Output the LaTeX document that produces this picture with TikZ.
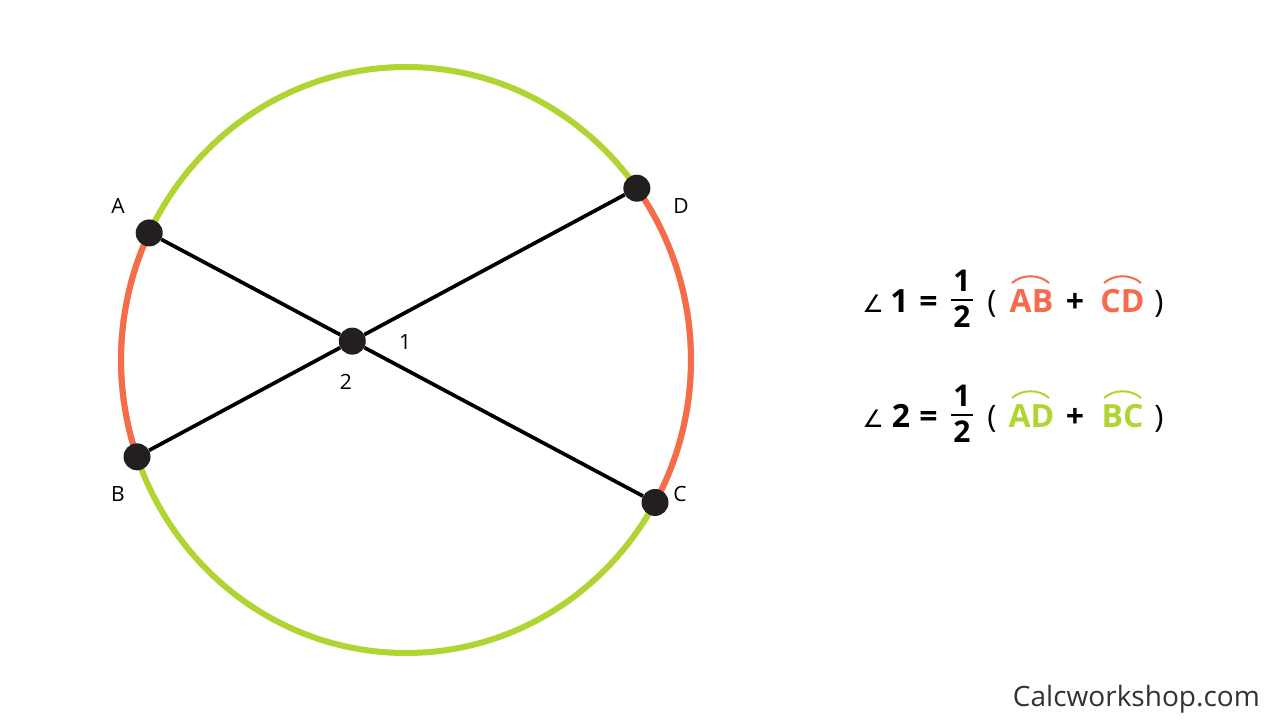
\documentclass[tikz,border=0pt]{standalone}
\usepackage{fontspec}
\setmainfont{Open Sans}
\newfontfamily\djv{DejaVu Sans}
\usetikzlibrary{calc}
\definecolor{arcgreen}{HTML}{B0D432}
\definecolor{arcred}{HTML}{F86A4C}
\definecolor{dotc}{HTML}{231F20}
\definecolor{wmgray}{HTML}{333333}
\begin{document}
\begin{tikzpicture}[x=1pt,y=1pt,
  dot/.style={circle,fill=dotc,inner sep=0pt,minimum size=27pt},
  chord/.style={line width=3.7pt,black},
  rim/.style={line width=6pt},
  lab/.style={font=\fontsize{21}{21}\selectfont,inner sep=0pt},
  fbold/.style={font=\fontsize{32}{32}\selectfont\bfseries,inner sep=0pt,anchor=base},
  ffrac/.style={font=\fontsize{30}{30}\selectfont\bfseries,inner sep=0pt,anchor=base},
  fparen/.style={font=\fontsize{31}{31}\selectfont,inner sep=0pt,anchor=base},
  angsym/.style={font=\djv\fontsize{24}{24}\selectfont,inner sep=0pt,anchor=base},
  arcmark/.style={line width=2pt},
]
\useasboundingbox (0,0) rectangle (1280,720);
\fill[white] (0,0) rectangle (1280,720);

% circle (slightly elliptical)
\coordinate (O) at (406,360);
\draw[arcgreen,rim] (O) ellipse [x radius=285pt,y radius=293pt];
\draw[arcred,rim] ($(O)+(154.3:285pt and 293pt)$) arc[start angle=154.3,end angle=199.3,x radius=285pt,y radius=293pt];
\draw[arcred,rim] ($(O)+(-29.1:285pt and 293pt)$) arc[start angle=-29.1,end angle=35.9,x radius=285pt,y radius=293pt];

% points
\node[dot] (A) at ($(O)+(154.3:285pt and 293pt)$) {};
\node[dot] (B) at ($(O)+(199.3:285pt and 293pt)$) {};
\node[dot] (C) at ($(O)+(-29.1:285pt and 293pt)$) {};
\node[dot] (D) at ($(O)+(35.9:285pt and 293pt)$) {};
\coordinate (X) at (intersection of A--C and B--D);
\node[dot] (P) at (X) {};

% chords
\draw[chord] (A) -- (P);
\draw[chord] (P) -- (C);
\draw[chord] (B) -- (P);
\draw[chord] (P) -- (D);

% labels
\node[lab] (lA) at (118,514) {A};
\node[lab] (lD) at (681,514) {D};
\node[lab] (lB) at (118,226) {B};
\node[lab] (lC) at (680,226) {C};
\node[lab] (l1) at (405,378) {1};
\node[lab] (l2) at (346,338) {2};

% formula row 1
\node[angsym] (ang1) at (873,407) {∠};
\node[fbold] (n1) at (899.5,407) {1};
\node[fbold] (eq1) at (928.5,407) {=};
\node[ffrac] (fn1) at (962,428) {1};
\node[ffrac] (fd1) at (962,392) {2};
\draw[line width=2.2pt] (951,420) -- (973,420);
\node[fparen] (lp1) at (992,407) {(};
\node[fbold,text=arcred] (ab) at (1031.5,407) {AB};
\draw[arcred,arcmark] ($(ab.base)+(-19.5,30)$) .. controls +(10,9) and +(-10,9) .. ($(ab.base)+(17.5,30)$);
\node[fbold] (pl1) at (1075,407) {+};
\node[fbold,text=arcred] (cd) at (1122.5,407) {CD};
\draw[arcred,arcmark] ($(cd.base)+(-18.5,30)$) .. controls +(10,9) and +(-10,9) .. ($(cd.base)+(18.5,30)$);
\node[fparen] (rp1) at (1159,407) {)};

% formula row 2
\begin{scope}[yshift=-115pt]
\node[angsym] (ang2) at (873,407) {∠};
\node[fbold] (n2) at (901,407) {2};
\node[fbold] (eq2) at (928.5,407) {=};
\node[ffrac] (fn2) at (962,428) {1};
\node[ffrac] (fd2) at (962,392) {2};
\draw[line width=2.2pt] (951,420) -- (973,420);
\node[fparen] (lp2) at (992,407) {(};
\node[fbold,text=arcgreen] (ad) at (1031.5,407) {AD};
\draw[arcgreen,arcmark] ($(ad.base)+(-19.5,30)$) .. controls +(10,9) and +(-10,9) .. ($(ad.base)+(17.5,30)$);
\node[fbold] (pl2) at (1075,407) {+};
\node[fbold,text=arcgreen] (bc) at (1122.5,407) {BC};
\draw[arcgreen,arcmark] ($(bc.base)+(-18.5,30)$) .. controls +(10,9) and +(-10,9) .. ($(bc.base)+(18.5,30)$);
\node[fparen] (rp2) at (1159,407) {)};
\end{scope}

% watermark
\node[anchor=base east,font=\fontsize{28}{28}\selectfont,text=wmgray,inner sep=0pt] (wm) at (1260,13) {Calcworkshop.com};
\end{tikzpicture}
\end{document}
